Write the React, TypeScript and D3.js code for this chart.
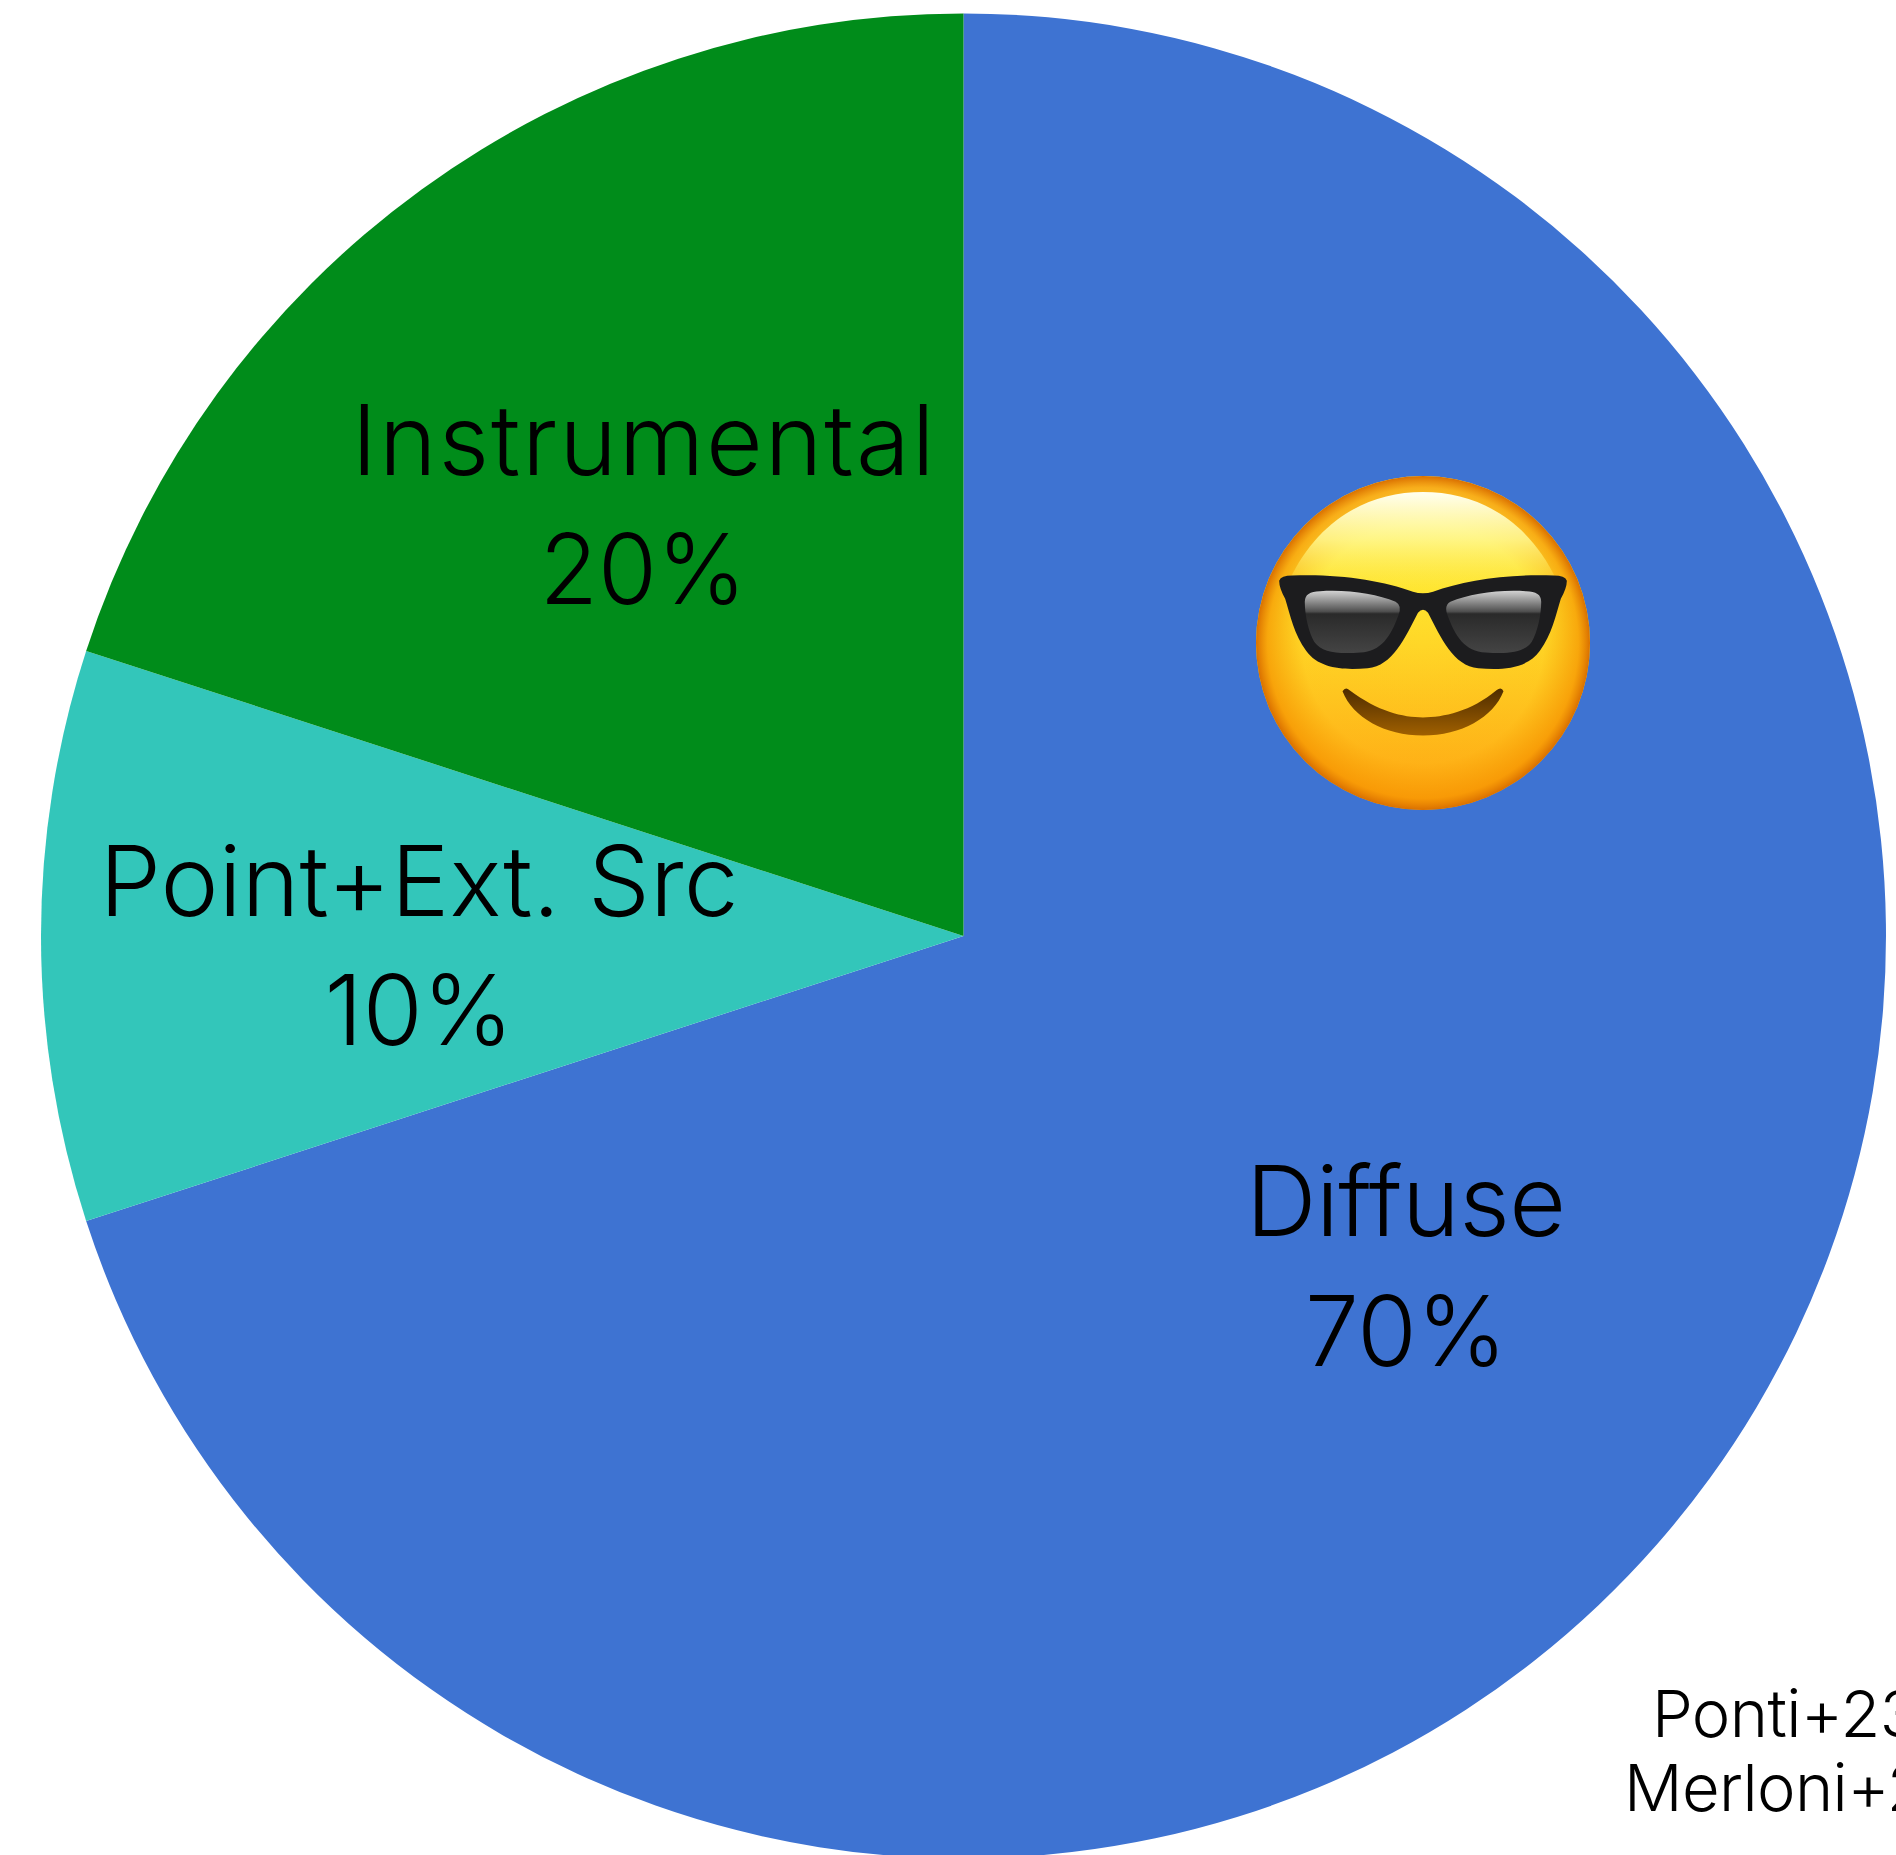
import React from "react";
import * as d3 from "d3";

const categories = ["Diffuse", "Point+Ext. Src", "Instrumental"];
const shares = [70, 10, 20];
const colors = ["#3E73D2", "#33C6BA", "#008C1A"];
const citations = ["Ponti+23", "Merloni+23"];

const W = 1896, H = 1855;
const CX = 963.5, CY = 936, R = 922.5;
const FONT = "Inter, 'Noto Sans', sans-serif";
const LABEL_SIZE = 98;
const labelLayout = [
  { x: 1406, y1: 1236, y2: 1366, w1: 320, w2: 202 },
  { x: 419, y1: 916, y2: 1045, w1: 639, w2: 189 },
  { x: 643, y1: 475, y2: 604, w1: 583, w2: 207 },
];
const citeLayout = [
  { x: 1652, y: 1737 },
  { x: 1624, y: 1811 },
];

function Emoji({ cx, cy, r }: { cx: number; cy: number; r: number }) {
  const s = r / 166;
  const lensPath = "M-120,-42 Q-120,-53 -104,-53 C-75,-55 -45,-50 -25,-42 Q-18,-38 -22,-28 C-30,-6 -40,10 -62,11 C-85,13 -102,11 -110,0 C-116,-10 -120,-28 -120,-42 Z";
  return (
    <g transform={`translate(${cx},${cy}) scale(${s})`}>
      <defs>
        <linearGradient id="face" x1="0" y1="0" x2="0" y2="1">
          <stop offset="0" stopColor="#FFF060" />
          <stop offset="0.35" stopColor="#FFE62E" />
          <stop offset="0.62" stopColor="#FFCB22" />
          <stop offset="1" stopColor="#FFA512" />
        </linearGradient>
        <radialGradient id="rim" cx="0.5" cy="0.5" r="0.5">
          <stop offset="0" stopColor="#F08A00" stopOpacity="0" />
          <stop offset="0.72" stopColor="#F59A00" stopOpacity="0.05" />
          <stop offset="0.93" stopColor="#F59300" stopOpacity="0.7" />
          <stop offset="1" stopColor="#D96F00" stopOpacity="1" />
        </radialGradient>
        <linearGradient id="shine" x1="0" y1="0" x2="0" y2="1">
          <stop offset="0" stopColor="#FFFFF0" />
          <stop offset="0.45" stopColor="#FFF890" stopOpacity="0.85" />
          <stop offset="1" stopColor="#FFEA3C" stopOpacity="0" />
        </linearGradient>
        <linearGradient id="lens" x1="0" y1="0" x2="0" y2="1">
          <stop offset="0" stopColor="#d2d2d2" />
          <stop offset="0.33" stopColor="#505050" />
          <stop offset="0.37" stopColor="#2a2a2a" />
          <stop offset="1" stopColor="#444444" />
        </linearGradient>
        <linearGradient id="mouth" x1="0" y1="0" x2="0" y2="1">
          <stop offset="0" stopColor="#4e2c00" />
          <stop offset="1" stopColor="#a06000" />
        </linearGradient>
      </defs>
      <circle r={166} fill="url(#face)" />
      <circle r={166} fill="url(#rim)" />
      <path d="M-133,-62 C-105,-122 -55,-150 0,-150 C55,-150 105,-122 133,-62 C90,-40 -90,-40 -133,-62 Z" fill="url(#shine)" />
      <path
        d="M-143,-62 Q-141,-67 -130,-67 C-85,-69 -40,-62 -10,-51 Q0,-48 10,-51 C40,-62 85,-69 130,-67 Q141,-67 143,-62 Q143,-55 137,-44 C132,-28 128,-8 116,8 C103,26 78,27 55,25 C30,23 18,-5 5,-30 Q0,-36 -5,-30 C-18,-5 -30,23 -55,25 C-78,27 -103,26 -116,8 C-128,-8 -132,-28 -137,-44 Q-143,-55 -143,-62 Z"
        fill="#1c1c1e"
      />
      <g transform="translate(-70,-21) scale(0.95) translate(70,21)">
        <path d={lensPath} fill="url(#lens)" />
      </g>
      <g transform="scale(-1,1) translate(-70,-21) scale(0.95) translate(70,21)">
        <path d={lensPath} fill="url(#lens)" />
      </g>
      <path d="M-80,48 Q-77,43 -73,47 C-45,68 -20,74 0,74 C20,74 48,68 73,47 Q78,43 80,48 C70,74 38,92 0,92 C-38,92 -70,74 -80,48 Z" fill="url(#mouth)" />
    </g>
  );
}

export default function App() {
  const pie = d3.pie<number>().sort(null).value((d) => d);
  const arcGen = d3.arc<d3.PieArcDatum<number>>().innerRadius(0).outerRadius(R);
  const arcs = pie(shares);
  return (
    <svg width={W} height={H} viewBox={`0 0 ${W} ${H}`} style={{ position: "absolute", left: 0, top: 0, display: "block" }}>
      <rect width={W} height={H} fill="#fff" />
      <g transform={`translate(${CX},${CY})`}>
        {arcs.map((a, i) => (
          <path key={categories[i]} d={arcGen(a) as string} fill={colors[i]} />
        ))}
      </g>
      {categories.map((c, i) => (
        <g key={c} fontFamily={FONT} fontSize={LABEL_SIZE} fontWeight={350} textAnchor="middle" fill="#000">
          <text x={labelLayout[i].x} y={labelLayout[i].y1} textLength={labelLayout[i].w1} lengthAdjust="spacing">{c}</text>
          <text x={labelLayout[i].x} y={labelLayout[i].y2} textLength={labelLayout[i].w2} lengthAdjust="spacingAndGlyphs">{shares[i]}%</text>
        </g>
      ))}
      <Emoji cx={1423} cy={643} r={167} />
      {citations.map((c, i) => (
        <text key={c} x={citeLayout[i].x} y={citeLayout[i].y} fontFamily={FONT} fontSize={65} fontWeight={350} letterSpacing={-0.6} fill="#000">{c}</text>
      ))}
    </svg>
  );
}
